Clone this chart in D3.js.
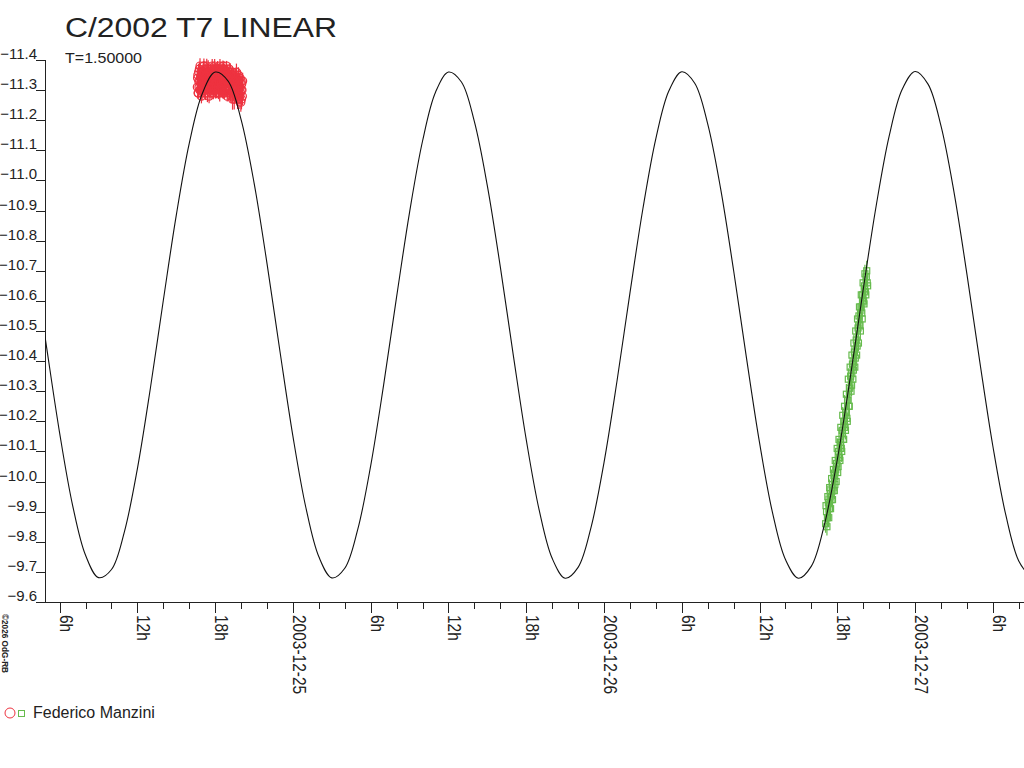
<!DOCTYPE html>
<html>
<head>
<meta charset="utf-8">
<script src="https://cdn.jsdelivr.net/npm/d3@7"></script>
<style>
  body { margin: 0; background: #fff; }
  svg { display: block; }
  text { font-family: "Liberation Sans", Arial, sans-serif; fill: #222; }
</style>
</head>
<body>
<script>
const chartTitle = "C/2002 T7 LINEAR";
const subTitle = "T=1.50000";
const observer = "Federico Manzini";
const credit = "©2026 OdG-RB";

// all times: hours since 2003-12-24 00:00 UT
const modelHours = [4,5,6,7,8,9,10,11,12,13,14,15,16,17,18,19,20,21,22,23,24,25,26,27,28,29,30,31,32,33,
  34,35,36,37,38,39,40,41,42,43,44,45,46,47,48,49,50,51,52,53,54,55,56,57,58,59,60,61,62,63,
  64,65,66,67,68,69,70,71,72,73,74,75,76,77,78,79,80,81];
const modelMag = [-10.736,-10.444,-10.161,-9.921,-9.755,-9.681,-9.708,-9.834,-10.043,-10.310,
  -10.602,-10.885,-11.123,-11.288,-11.360,-11.330,-11.202,-10.992,-10.724,-10.432,
  -10.150,-9.913,-9.750,-9.680,-9.712,-9.841,-10.053,-10.322,-10.614,-10.895,
  -11.131,-11.293,-11.360,-11.327,-11.195,-10.982,-10.713,-10.420,-10.139,-9.905,
  -9.745,-9.679,-9.715,-9.848,-10.063,-10.333,-10.626,-10.906,-11.139,-11.297,
  -11.361,-11.323,-11.188,-10.972,-10.701,-10.408,-10.129,-9.897,-9.741,-9.679,
  -9.719,-9.856,-10.073,-10.345,-10.638,-10.916,-11.147,-11.302,-11.362,-11.320,
  -11.181,-10.962,-10.689,-10.396,-10.118,-9.889,-9.736,-9.678];

// first session (red circles)
const redHours = [16.62,16.66,16.70,16.73,16.78,16.81,16.85,16.90,16.94,16.97,
  17.02,17.05,17.10,17.13,17.18,17.21,17.25,17.30,17.33,17.38,
  17.41,17.46,17.49,17.53,17.58,17.61,17.66,17.69,17.74,17.77,
  17.81,17.86,17.89,17.94,17.97,18.02,18.05,18.09,18.14,18.17,
  18.22,18.25,18.30,18.33,18.37,18.42,18.45,18.50,18.53,18.58,
  18.61,18.65,18.70,18.73,18.78,18.81,18.86,18.89,18.93,18.98,
  19.01,19.06,19.09,19.14,19.17,19.21,19.26,19.29,19.34,19.37,
  19.42,19.45,19.49,19.54,19.57,19.62,19.65,19.70,19.73,19.77,
  19.82,19.85,19.90,19.93,19.98,20.01,20.05,20.10,
  16.64,16.68,16.72,16.75,16.80,16.83,16.87,16.92,16.96,16.99,
  17.04,17.07,17.12,17.15,17.20,17.23,17.27,17.32,17.35,17.40,
  17.43,17.48,17.51,17.55,17.60,17.63,17.68,17.71,17.76,17.79,
  17.83,17.88,17.91,17.96,17.99,18.04,18.07,18.11,18.16,18.19,
  18.24,18.27,18.32,18.35,18.39,18.44,18.47,18.52,18.55,18.60,
  18.63,18.67,18.72,18.75,18.80,18.83,18.88,18.91,18.95,19.00,
  19.03,19.08,19.11,19.16,19.19,19.23,19.28,19.31,19.36,19.39,
  19.44,19.47,19.51,19.56,19.59,19.64,19.67,19.72,19.75,19.79,
  19.84,19.87,19.92,19.95,20.00,20.03,20.07,20.12];
const redMag = [-11.31,-11.35,-11.29,-11.33,-11.37,-11.30,-11.34,-11.32,-11.28,-11.36,
  -11.33,-11.30,-11.35,-11.38,-11.31,-11.34,-11.29,-11.36,-11.32,-11.35,
  -11.30,-11.37,-11.33,-11.28,-11.35,-11.32,-11.36,-11.31,-11.34,-11.38,
  -11.33,-11.29,-11.36,-11.32,-11.35,-11.30,-11.37,-11.33,-11.31,-11.35,
  -11.34,-11.29,-11.36,-11.32,-11.38,-11.31,-11.34,-11.30,-11.36,-11.33,
  -11.29,-11.35,-11.32,-11.37,-11.30,-11.34,-11.31,-11.36,-11.28,-11.33,
  -11.35,-11.30,-11.33,-11.36,-11.29,-11.32,-11.35,-11.31,-11.27,-11.34,
  -11.30,-11.33,-11.28,-11.35,-11.31,-11.29,-11.34,-11.30,-11.27,-11.32,
  -11.29,-11.33,-11.28,-11.31,-11.26,-11.30,-11.32,-11.28,
  -11.34,-11.29,-11.36,-11.31,-11.33,-11.38,-11.30,-11.35,-11.33,-11.29,
  -11.36,-11.32,-11.38,-11.30,-11.34,-11.37,-11.31,-11.33,-11.38,-11.29,
  -11.34,-11.31,-11.36,-11.33,-11.30,-11.37,-11.29,-11.35,-11.32,-11.31,
  -11.37,-11.34,-11.30,-11.38,-11.33,-11.36,-11.31,-11.29,-11.35,-11.37,
  -11.31,-11.36,-11.33,-11.29,-11.35,-11.37,-11.32,-11.36,-11.30,-11.38,
  -11.33,-11.37,-11.29,-11.34,-11.36,-11.31,-11.38,-11.33,-11.35,-11.30,
  -11.32,-11.37,-11.29,-11.34,-11.32,-11.28,-11.33,-11.36,-11.31,-11.29,
  -11.35,-11.27,-11.33,-11.30,-11.34,-11.36,-11.28,-11.33,-11.31,-11.35,
  -11.27,-11.31,-11.34,-11.29,-11.33,-11.27,-11.30,-11.33];
const redErr = [0.020,0.025,0.018,0.030,0.022,0.015,0.027,0.020,0.024,0.019,
  0.028,0.021,0.016,0.025,0.030,0.018,0.023,0.020,0.026,0.017,
  0.022,0.029,0.019,0.024,0.016,0.027,0.021,0.025,0.018,0.023,
  0.030,0.020,0.026,0.017,0.022,0.028,0.019,0.024,0.021,0.016,
  0.025,0.020,0.027,0.018,0.023,0.029,0.021,0.017,0.026,0.022,
  0.019,0.024,0.028,0.016,0.021,0.025,0.020,0.027,0.018,0.023,
  0.026,0.019,0.022,0.030,0.017,0.024,0.021,0.028,0.035,0.020,
  0.023,0.018,0.026,0.022,0.019,0.030,0.024,0.021,0.033,0.025,
  0.020,0.027,0.023,0.018,0.032,0.022,0.026,0.030,
  0.024,0.019,0.027,0.021,0.016,0.026,0.022,0.029,0.018,0.023,
  0.020,0.025,0.017,0.028,0.022,0.019,0.026,0.021,0.024,0.030,
  0.018,0.023,0.027,0.020,0.025,0.016,0.022,0.028,0.019,0.024,
  0.021,0.026,0.018,0.023,0.029,0.020,0.025,0.017,0.022,0.027,
  0.019,0.024,0.021,0.028,0.016,0.023,0.026,0.020,0.025,0.018,
  0.022,0.027,0.019,0.024,0.021,0.029,0.017,0.023,0.026,0.020,
  0.025,0.018,0.022,0.028,0.030,0.021,0.024,0.019,0.027,0.023,
  0.020,0.034,0.022,0.025,0.019,0.028,0.031,0.021,0.024,0.026,
  0.033,0.022,0.027,0.020,0.025,0.034,0.023,0.028];

// second session (green squares)
const greenHours = [65.10,65.17,65.24,65.31,65.38,65.45,65.52,65.60,65.67,65.74,
  65.81,65.88,65.95,66.03,66.10,66.17,66.24,66.31,66.38,66.46,
  66.53,66.60,66.67,66.74,66.81,66.89,66.96,67.03,67.10,67.17,
  67.24,67.32,67.39,67.46,67.53,67.60,67.67,67.75,67.82,67.89,
  67.96,68.03,68.10,68.17,68.24,68.31,
  65.13,65.20,65.27,65.34,65.41,65.48,65.56,65.63,65.70,65.77,
  65.84,65.91,65.99,66.06,66.13,66.20,66.27,66.34,66.42,66.49,
  66.56,66.63,66.70,66.77,66.85,66.92,66.99,67.06,67.13,67.20,
  67.28,67.35,67.42,67.49,67.56,67.63,67.71,67.78,67.85,67.92,
  67.99,68.06,68.13,68.20,68.27,68.34];
const greenMag = [-9.86,-9.90,-9.88,-9.93,-9.91,-9.96,-9.94,-9.99,-9.97,-10.02,
  -9.99,-10.04,-10.06,-10.03,-10.10,-10.08,-10.13,-10.11,-10.17,-10.14,
  -10.20,-10.18,-10.23,-10.21,-10.27,-10.25,-10.31,-10.35,-10.32,-10.39,
  -10.37,-10.43,-10.41,-10.47,-10.45,-10.51,-10.55,-10.52,-10.58,-10.56,
  -10.62,-10.60,-10.65,-10.63,-10.68,-10.66,
  -9.92,-9.85,-9.95,-9.88,-9.98,-9.91,-10.01,-9.94,-10.04,-9.97,
  -10.07,-10.00,-10.11,-10.05,-10.14,-10.07,-10.18,-10.10,-10.22,-10.14,
  -10.25,-10.17,-10.29,-10.20,-10.34,-10.25,-10.38,-10.30,-10.42,-10.34,
  -10.46,-10.38,-10.50,-10.42,-10.54,-10.46,-10.58,-10.50,-10.62,-10.54,
  -10.66,-10.59,-10.69,-10.62,-10.70,-10.65];
const greenErr = [0.030,0.035,0.028,0.033,0.038,0.030,0.026,0.036,0.032,0.029,
  0.034,0.040,0.031,0.027,0.037,0.033,0.030,0.035,0.028,0.039,
  0.032,0.036,0.029,0.034,0.031,0.038,0.027,0.033,0.036,0.030,
  0.035,0.032,0.040,0.029,0.034,0.031,0.037,0.028,0.033,0.036,
  0.030,0.034,0.029,0.035,0.032,0.031,
  0.033,0.029,0.036,0.031,0.027,0.035,0.030,0.038,0.032,0.028,
  0.036,0.031,0.034,0.029,0.039,0.033,0.030,0.035,0.028,0.032,
  0.037,0.030,0.034,0.029,0.036,0.031,0.033,0.038,0.030,0.035,
  0.029,0.034,0.031,0.037,0.032,0.028,0.035,0.030,0.033,0.036,
  0.031,0.034,0.030,0.036,0.033,0.029];

const yTickValues = [-11.4,-11.3,-11.2,-11.1,-11.0,-10.9,-10.8,-10.7,-10.6,-10.5,
  -10.4,-10.3,-10.2,-10.1,-10.0,-9.9,-9.8,-9.7,-9.6];

const RED = "#ee3340";
const GREEN = "#66bb4d";

const t0 = Date.UTC(2003, 11, 24);
const toDate = h => new Date(t0 + h * 3600e3);

const svg = d3.select(document.body).append("svg")
  .attr("width", 1024)
  .attr("height", 768);

const x = d3.scaleUtc()
  .domain([toDate(4.87), toDate(80.25)])
  .range([45, 1022]);

const y = d3.scaleLinear()
  .domain([-11.4, -9.6])
  .range([60, 602]);

// titles
svg.append("text")
  .attr("x", 65).attr("y", 37)
  .attr("font-size", 27)
  .attr("textLength", 272)
  .attr("lengthAdjust", "spacingAndGlyphs")
  .text(chartTitle);

svg.append("text")
  .attr("x", 65).attr("y", 63)
  .attr("font-size", 14)
  .attr("textLength", 77)
  .attr("lengthAdjust", "spacingAndGlyphs")
  .text(subTitle);

// y axis -----------------------------------
const yAxis = svg.append("g").attr("stroke", "#222");
yAxis.append("line")
  .attr("x1", 45.5).attr("x2", 45.5)
  .attr("y1", y(-11.4)).attr("y2", y(-9.6));
yAxis.selectAll("tick")
  .data(yTickValues)
  .join("line")
    .attr("x1", 36).attr("x2", 45)
    .attr("y1", d => Math.round(y(d)) + 0.5)
    .attr("y2", d => Math.round(y(d)) + 0.5);
svg.append("g")
  .selectAll("text")
  .data(yTickValues)
  .join("text")
    .attr("x", 37)
    .attr("y", d => y(d) - 1)
    .attr("text-anchor", "end")
    .attr("font-size", 15)
    .text(d => d3.format(".1f")(d));

// x axis -----------------------------------
const xAxis = svg.append("g").attr("stroke", "#222");
xAxis.append("line")
  .attr("x1", 36).attr("x2", 1024)
  .attr("y1", 602.5).attr("y2", 602.5);

const xTicks = x.ticks(d3.utcHour.every(2));
const isMajor = d => d.getUTCHours() % 6 === 0;

xAxis.selectAll("tick")
  .data(xTicks)
  .join("line")
    .attr("x1", d => Math.round(x(d)) + 0.5)
    .attr("x2", d => Math.round(x(d)) + 0.5)
    .attr("y1", 602)
    .attr("y2", d => isMajor(d) ? 613 : 609);

svg.append("g")
  .selectAll("text")
  .data(xTicks.filter(isMajor))
  .join("text")
    .attr("transform", d => `translate(${Math.round(x(d))},615) rotate(90) scale(1,1.15)`)
    .attr("font-size", 15.5)
    .text(d => d.getUTCHours() === 0 ? d3.utcFormat("%Y-%m-%d")(d) : `${d.getUTCHours()}h`);

// credit, vertical at the left edge
svg.append("text")
  .attr("transform", "translate(2,614) rotate(90)")
  .attr("font-size", 9.5)
  .attr("font-weight", "bold")
  .attr("textLength", 59)
  .attr("lengthAdjust", "spacingAndGlyphs")
  .text(credit);

// plot area --------------------------------
svg.append("defs").append("clipPath")
  .attr("id", "plot")
  .append("rect")
    .attr("x", 45).attr("y", 0)
    .attr("width", 979).attr("height", 602);

const plot = svg.append("g").attr("clip-path", "url(#plot)");

const redData = redHours.map((h, i) => ({ t: toDate(h), m: redMag[i], e: redErr[i] }));
const greenData = greenHours.map((h, i) => ({ t: toDate(h), m: greenMag[i], e: greenErr[i] }));

// red circles with error bars
const red = plot.append("g")
  .attr("stroke", RED)
  .attr("stroke-width", 1.2)
  .attr("fill", "none");
red.selectAll("err")
  .data(redData)
  .join("line")
    .attr("x1", d => x(d.t)).attr("x2", d => x(d.t))
    .attr("y1", d => y(d.m - d.e)).attr("y2", d => y(d.m + d.e));
red.selectAll("pt")
  .data(redData)
  .join("circle")
    .attr("cx", d => x(d.t))
    .attr("cy", d => y(d.m))
    .attr("r", 4);

// green squares with error bars
const green = plot.append("g")
  .attr("stroke", GREEN)
  .attr("stroke-width", 1.2)
  .attr("fill", "none");
green.selectAll("err")
  .data(greenData)
  .join("line")
    .attr("x1", d => x(d.t)).attr("x2", d => x(d.t))
    .attr("y1", d => y(d.m - d.e)).attr("y2", d => y(d.m + d.e));
green.selectAll("pt")
  .data(greenData)
  .join("rect")
    .attr("x", d => x(d.t) - 3)
    .attr("y", d => y(d.m) - 3)
    .attr("width", 6)
    .attr("height", 6);

// model curve
const line = d3.line()
  .x((d, i) => x(toDate(modelHours[i])))
  .y(d => y(d))
  .curve(d3.curveCatmullRom);

plot.append("path")
  .attr("d", line(modelMag))
  .attr("fill", "none")
  .attr("stroke", "#111")
  .attr("stroke-width", 1.1);

// legend
svg.append("circle")
  .attr("cx", 10).attr("cy", 713).attr("r", 5)
  .attr("fill", "none").attr("stroke", RED);
svg.append("rect")
  .attr("x", 18.5).attr("y", 710.5)
  .attr("width", 6).attr("height", 6)
  .attr("fill", "none").attr("stroke", GREEN);
svg.append("text")
  .attr("x", 33).attr("y", 718)
  .attr("font-size", 16)
  .text(observer);
</script>
</body>
</html>
